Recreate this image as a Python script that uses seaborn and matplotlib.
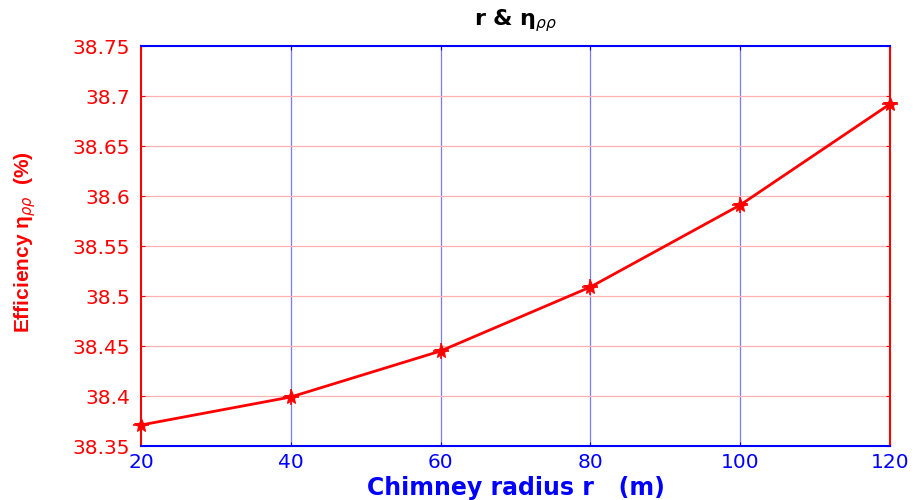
import matplotlib
matplotlib.use("Agg")
import matplotlib.pyplot as plt
import seaborn as sns
import pandas as pd

# Chimney radius (m) and efficiency (%)
radius = [20, 40, 60, 80, 100, 120]
efficiency = [38.371, 38.399, 38.445, 38.509, 38.591, 38.692]
x_ticks = [20, 40, 60, 80, 100, 120]
y_ticks = [38.35, 38.40, 38.45, 38.50, 38.55, 38.60, 38.65, 38.70, 38.75]
y_tick_labels = ["38.35", "38.4", "38.45", "38.5", "38.55", "38.6", "38.65", "38.7", "38.75"]

sns.set_theme(style="white")
plt.rcParams["font.family"] = ["DejaVu Sans"]
plt.rcParams["mathtext.fontset"] = "dejavusans"

df = pd.DataFrame({"r": radius, "eta": efficiency})

fig = plt.figure(figsize=(9.17, 5.0), dpi=100)
ax = fig.add_axes([141 / 917, 1 - 446 / 500, (890 - 141) / 917, (446 - 46) / 500])

sns.lineplot(data=df, x="r", y="eta", ax=ax, color="red", linewidth=2,
             marker="*", markersize=10, markeredgecolor="red", markerfacecolor="red",
             clip_on=False, zorder=5)
ax.plot(df["r"], df["eta"], linestyle="none", marker="+", markersize=12,
        markeredgewidth=1.2, color="red", clip_on=False, zorder=5)

ax.set_xlim(20, 120)
ax.set_ylim(38.35, 38.75)
ax.set_xticks(x_ticks)
ax.set_yticks(y_ticks)
ax.set_yticklabels(y_tick_labels)

# Grid: vertical lines in blue, horizontal lines in light red
for xv in x_ticks[1:-1]:
    ax.axvline(xv, color="#7a7aff", linewidth=0.9, zorder=0)
for yv in y_ticks[1:-1]:
    ax.axhline(yv, color="#ffb0b0", linewidth=0.9, zorder=0)

for side in ["left", "right"]:
    ax.spines[side].set_color("red")
    ax.spines[side].set_linewidth(1.5)
for side in ["top", "bottom"]:
    ax.spines[side].set_color("blue")
    ax.spines[side].set_linewidth(1.5)

ax.tick_params(axis="x", colors="blue", labelsize=14.5, direction="in", length=3,
               width=0.8, top=True, bottom=True, pad=5)
ax.tick_params(axis="y", colors="red", labelsize=14.5, direction="in", length=3,
               width=0.8, left=True, right=True, pad=8)

ax.set_xlabel("Chimney radius r   (m)", color="blue", fontsize=17,
              fontweight="bold", labelpad=3)
ax.set_ylabel(r"Efficiency η$_{\rho\rho}$  (%)", color="red",
              fontsize=15, fontweight="bold",
              family=["Liberation Sans Narrow", "Liberation Sans", "DejaVu Sans"])
ax.yaxis.set_label_coords(-0.138, 0.51)
ax.set_title(r"r & $\mathbf{\eta}_{\rho\rho}$", color="black", fontsize=16,
             fontweight="bold", pad=15)

fig.savefig("out.png", dpi=100)
